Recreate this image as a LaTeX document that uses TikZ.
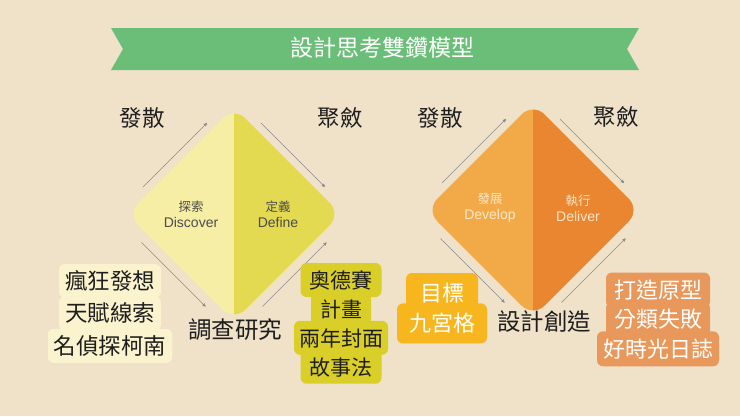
\documentclass[tikz,border=0pt]{standalone}
\usepackage{fontspec}
\setmainfont{Noto Sans CJK TC}
\newfontfamily\latinfont{Liberation Sans}
\usetikzlibrary{shapes.geometric, positioning, arrows, calc}

\definecolor{wood}{RGB}{240,225,201}
\definecolor{ribbon}{RGB}{106,190,120}
\definecolor{discover}{RGB}{246,238,165}
\definecolor{define}{RGB}{228,218,82}
\definecolor{develop}{RGB}{242,170,72}
\definecolor{deliver}{RGB}{234,133,48}
\definecolor{palebox}{RGB}{250,243,205}
\definecolor{olivebox}{RGB}{218,206,40}
\definecolor{goldbox}{RGB}{247,182,30}
\definecolor{rustbox}{RGB}{232,152,90}
\definecolor{ink}{RGB}{30,30,30}
\definecolor{cream}{RGB}{252,232,200}

\newcommand{\eng}[1]{{\latinfont\fontsize{14}{16}\selectfont #1}}

\tikzset{
	>=stealth',
	flow/.style={->, draw=black!45, line width=0.4pt},
	phase/.style={diamond, minimum size=214pt, inner sep=0pt, outer sep=0pt, rounded corners=16pt},
	stage/.style={align=center, font=\fontsize{12.5}{16}\selectfont},
	big/.style={text=ink, font=\fontsize{22.5}{26}\selectfont},
	linebox/.style={fill=#1, rounded corners=6pt, inner xsep=6pt, inner ysep=0pt,
		text height=19.4pt, text depth=2.6pt, font=\fontsize{22}{26}\selectfont}
}

\begin{document}
\begin{tikzpicture}[x=1pt, y=-1pt]
	
	\fill[wood] (0,0) rectangle (740,416);
	\useasboundingbox (0,0) rectangle (740,416);
	
	% ribbon
	\fill[ribbon] (111,28) -- (639,28) -- (627,49) -- (639,70) -- (111,70) -- (123,49) -- cycle;
	\node[text=white, font=\fontsize{23}{26}\selectfont] (title) at (382,48) {設計思考雙鑽模型};
	
	% diamonds
	\node[phase, fill=discover, path picture={\fill[define, sharp corners] (path picture bounding box.north) rectangle (path picture bounding box.south east);}] (d1) at (234,214) {};
	\node[phase, fill=develop, path picture={\fill[deliver, sharp corners] (path picture bounding box.north) rectangle (path picture bounding box.south east);}] (d2) at (533,210) {};
	
	\node[stage, text=black!70, left of=d1, node distance=43pt] (disc) {探索\\\eng{Discover}};
	\node[stage, text=black!70, right of=d1, node distance=44pt] (defn) {定義\\\eng{Define}};
	\node[stage, text=cream, left of=d2, node distance=43pt, yshift=2pt] (devl) {發展\\\eng{Develop}};
	\node[stage, text=cream, right of=d2, node distance=45pt, yshift=2pt] (delv) {執行\\\eng{Deliver}};
	
	\foreach \d in {d1,d2}{
		\draw[flow] ($(\d.west)!.2!(\d.north)+(-5.5,-5.5)$) -- ($(\d.west)!.8!(\d.north)+(-5.5,-5.5)$);
		\draw[flow] ($(\d.north)!.2!(\d.east)+(5.5,-5.5)$) -- ($(\d.north)!.8!(\d.east)+(5.5,-5.5)$);
		\draw[flow] ($(\d.west)!.2!(\d.south)+(-7,7)$) -- ($(\d.west)!.8!(\d.south)+(-7,7)$);
		\draw[flow] ($(\d.south)!.2!(\d.east)+(7,7)$) -- ($(\d.south)!.8!(\d.east)+(7,7)$);
	}
	
	\node[big] (div1) at (142,118) {發散};
	\node[big] (con1) at (340,118) {聚斂};
	\node[big] (div2) at (440,118) {發散};
	\node[big] (con2) at (616,117) {聚斂};
	\node[big, font=\fontsize{23.5}{26}\selectfont] (research) at (235,330) {調查研究};
	\node[big, font=\fontsize{23.5}{26}\selectfont] (create) at (544,322) {設計創造};
	
	% tool boxes
	\node[linebox=palebox, text=ink, minimum height=34pt, font=\fontsize{22.5}{26}\selectfont] (p1) at (110,281) {瘋狂發想};
	\node[linebox=palebox, text=ink, minimum height=34pt, font=\fontsize{22.5}{26}\selectfont, below=-2pt of p1] (p2) {天賦線索};
	\node[linebox=palebox, text=ink, minimum height=34pt, font=\fontsize{22.5}{26}\selectfont, below=-2pt of p2] (p3) {名偵探柯南};
	
	\node[linebox=olivebox, text=ink, minimum height=34pt, font=\fontsize{21}{26}\selectfont, inner xsep=9pt] (o1) at (341,280) {奧德賽};
	\node[linebox=olivebox, text=ink, minimum height=34pt, font=\fontsize{21}{26}\selectfont, inner xsep=9pt, below=-5.5pt of o1] (o2) {計畫};
	\node[linebox=olivebox, text=ink, minimum height=34pt, font=\fontsize{21}{26}\selectfont, inner xsep=5pt, below=-5.5pt of o2] (o3) {兩年封面};
	\node[linebox=olivebox, text=ink, minimum height=34pt, font=\fontsize{21}{26}\selectfont, inner xsep=9pt, below=-5.5pt of o3] (o4) {故事法};
	
	\node[linebox=goldbox, text=white, minimum height=40pt, inner xsep=14pt] (g1) at (442,293) {目標};
	\node[linebox=goldbox, text=white, minimum height=40pt, inner xsep=12pt, below=-10pt of g1] (g2) {九宮格};
	
	\node[linebox=rustbox, text=white, minimum height=35pt, inner xsep=8pt] (r1) at (658,290) {打造原型};
	\node[linebox=rustbox, text=white, minimum height=35pt, inner xsep=8pt, below=-6pt of r1] (r2) {分類失敗};
	\node[linebox=rustbox, text=white, minimum height=35pt, inner xsep=6pt, below=-6pt of r2] (r3) {好時光日誌};
	
\end{tikzpicture}
\end{document}
